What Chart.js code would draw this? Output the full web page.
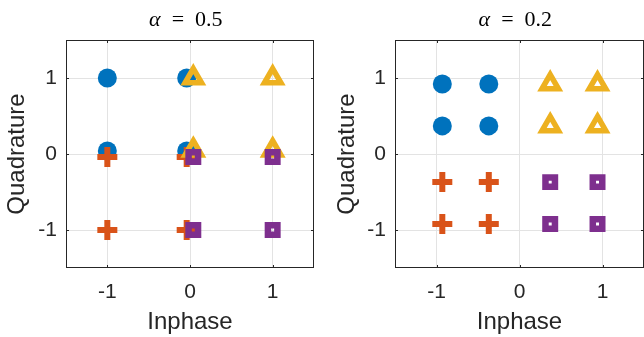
<!DOCTYPE html>
<html>
<head>
<meta charset="utf-8">
<script src="https://cdn.jsdelivr.net/npm/chart.js@4.4.0/dist/chart.umd.min.js"></script>
<style>
html, body { margin: 0; padding: 0; background: #fff; overflow: hidden; width: 644px; height: 337px; }
canvas { position: absolute; top: 0; }
#leftCanvas { left: 0; }
#rightCanvas { left: 330px; }
</style>
</head>
<body>
<canvas id="leftCanvas" width="330" height="337"></canvas>
<canvas id="rightCanvas" width="330" height="337"></canvas>
<script>
// tick positions on both axes
const tickValues = [-1, 0, 1];
const alphaLabels = ['0.5', '0.2'];

// alpha = 0.5 constellation
const circlesA = [[-1, 1], [-0.04, 1], [-1, 0.04], [-0.04, 0.04]];
const plusesA = [[-1, -0.04], [-0.04, -0.04], [-1, -1], [-0.04, -1]];
const trianglesA = [[0.04, 1], [1, 1], [0.04, 0.05], [1, 0.05]];
const squaresA = [[0.04, -0.04], [1, -0.04], [0.04, -1], [1, -1]];

// alpha = 0.2 constellation
const circlesB = [[-0.93, 0.92], [-0.37, 0.92], [-0.93, 0.37], [-0.37, 0.37]];
const plusesB = [[-0.93, -0.37], [-0.37, -0.37], [-0.93, -0.92], [-0.37, -0.92]];
const trianglesB = [[0.37, 0.92], [0.94, 0.92], [0.37, 0.37], [0.94, 0.37]];
const squaresB = [[0.37, -0.37], [0.94, -0.37], [0.37, -0.92], [0.94, -0.92]];

const BLUE = '#0072BD';
const ORANGE = '#D95319';
const YELLOW = '#EDB120';
const PURPLE = '#7E2F8E';
const AXIS = '#262626';

function pts(arr) {
    return arr.map(p => ({ x: p[0], y: p[1] }));
}

function buildSets(circles, pluses, triangles, squares) {
    return [
        { data: pts(circles), pointStyle: 'circle', pointRadius: 9.5, backgroundColor: BLUE, borderWidth: 0, order: 4 },
        { data: pts(pluses), pointStyle: 'cross', pointRadius: 10, borderColor: ORANGE, borderWidth: 6, order: 3 },
        { data: pts(triangles), pointStyle: 'triangle', pointRadius: 9.5, borderColor: YELLOW, backgroundColor: 'transparent', borderWidth: 5.5, order: 2 },
        { data: pts(squares), pointStyle: 'rect', pointRadius: 6.7, borderColor: PURPLE, backgroundColor: 'transparent', borderWidth: 6.5, order: 1 }
    ];
}

// box round the axes with inward tick marks on every side
const boxPlugin = {
    id: 'box',
    beforeDatasetsDraw(chart) {
        const { ctx, chartArea: a, scales } = chart;
        ctx.save();
        ctx.strokeStyle = AXIS;
        ctx.lineWidth = 1;
        ctx.strokeRect(Math.round(a.left) + 0.5, Math.round(a.top) + 0.5,
            Math.round(a.right - a.left) - 1, Math.round(a.bottom - a.top) - 1);
        ctx.beginPath();
        tickValues.forEach(v => {
            const px = Math.round(scales.x.getPixelForValue(v)) + 0.5;
            ctx.moveTo(px, a.bottom); ctx.lineTo(px, a.bottom - 3);
            ctx.moveTo(px, a.top); ctx.lineTo(px, a.top + 3);
            const py = Math.round(scales.y.getPixelForValue(v)) + 0.5;
            ctx.moveTo(a.left, py); ctx.lineTo(a.left + 3, py);
            ctx.moveTo(a.right, py); ctx.lineTo(a.right - 3, py);
        });
        ctx.stroke();
        ctx.restore();
    }
};

// "alpha = x" title, alpha in italic
const alphaTitle = {
    id: 'alphaTitle',
    afterDraw(chart, args, opts) {
        const { ctx, chartArea: a } = chart;
        const cx = (a.left + a.right) / 2;
        const base = 26;
        ctx.save();
        ctx.fillStyle = '#000';
        ctx.textBaseline = 'alphabetic';
        ctx.textAlign = 'left';
        ctx.font = 'italic 22px "Liberation Serif"';
        ctx.fillText('\u03b1', cx - 41, base);
        ctx.font = '22px "Liberation Serif"';
        ctx.textAlign = 'center';
        ctx.fillText('=', cx - 12, base);
        ctx.textAlign = 'left';
        ctx.fillText(opts.text, cx + 5, base);
        ctx.restore();
    }
};

function makeChart(id, label, sets, yWidth, padRight) {
    const tickFont = { family: 'Liberation Sans', size: 21 };
    const titleFont = { family: 'Liberation Sans', size: 24 };
    return new Chart(document.getElementById(id), {
        type: 'scatter',
        data: { datasets: sets },
        options: {
            responsive: false,
            animation: false,
            layout: { padding: { left: 0, right: padRight, top: 40, bottom: 0 } },
            plugins: {
                legend: { display: false },
                tooltip: { enabled: false },
                title: { display: false },
                alphaTitle: { text: label }
            },
            scales: {
                x: {
                    min: -1.5, max: 1.5,
                    afterBuildTicks: s => { s.ticks = tickValues.map(v => ({ value: v })); },
                    afterFit: s => { s.height = 69; },
                    grid: { color: '#e3e3e3', drawTicks: false },
                    border: { display: false },
                    ticks: { padding: 12, color: AXIS, font: tickFont },
                    title: { display: true, text: 'Inphase', color: AXIS, font: titleFont, padding: 0 }
                },
                y: {
                    min: -1.5, max: 1.5,
                    afterBuildTicks: s => { s.ticks = tickValues.map(v => ({ value: v })); },
                    afterFit: s => { s.width = yWidth; },
                    grid: { color: '#e3e3e3', drawTicks: false },
                    border: { display: false },
                    ticks: { padding: 9, color: AXIS, font: tickFont },
                    title: { display: true, text: 'Quadrature', color: AXIS, font: titleFont, padding: { top: 3 } }
                }
            }
        },
        plugins: [boxPlugin, alphaTitle]
    });
}

makeChart('leftCanvas', alphaLabels[0], buildSets(circlesA, plusesA, trianglesA, squaresA), 66, 12);
makeChart('rightCanvas', alphaLabels[1], buildSets(circlesB, plusesB, trianglesB, squaresB), 65, 14);
</script>
</body>
</html>
